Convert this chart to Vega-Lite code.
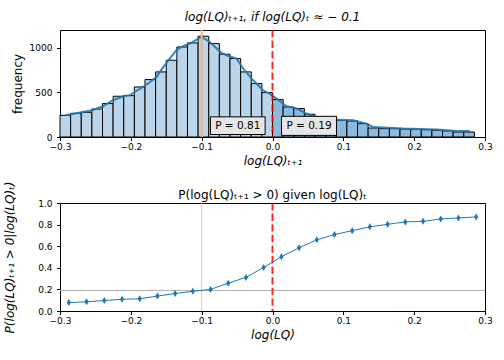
{
  "$schema": "https://vega.github.io/schema/vega-lite/v6.json",
  "padding": {"left": 3, "top": 10, "right": 10, "bottom": 5},
  "bounds": "flush",
  "spacing": 66,
  "config": {
    "font": "DejaVu Sans",
    "view": {"stroke": "black", "strokeWidth": 1},
    "axis": {
      "labelFlush": false, "labelOverlap": false, "grid": false,
      "domainColor": "black", "tickColor": "black", "labelColor": "black", "titleColor": "black",
      "labelFont": "DejaVu Sans", "titleFont": "DejaVu Sans",
      "labelFontSize": 9, "titleFontSize": 12, "titleFontWeight": "normal",
      "tickSize": 3.5, "domainWidth": 1, "tickWidth": 1
    },
    "title": {"font": "DejaVu Sans", "fontSize": 12, "fontWeight": "normal", "color": "black", "offset": 5, "frame": "group"}
  },
  "datasets": {
    "bars": [
      {"a": -0.3, "b": -0.285, "c": 243, "side": "neg"},
      {"a": -0.285, "b": -0.27, "c": 266, "side": "neg"},
      {"a": -0.27, "b": -0.255, "c": 277, "side": "neg"},
      {"a": -0.255, "b": -0.24, "c": 314, "side": "neg"},
      {"a": -0.24, "b": -0.225, "c": 375, "side": "neg"},
      {"a": -0.225, "b": -0.21, "c": 457, "side": "neg"},
      {"a": -0.21, "b": -0.195, "c": 464, "side": "neg"},
      {"a": -0.195, "b": -0.18, "c": 561, "side": "neg"},
      {"a": -0.18, "b": -0.165, "c": 644, "side": "neg"},
      {"a": -0.165, "b": -0.15, "c": 730, "side": "neg"},
      {"a": -0.15, "b": -0.135, "c": 861, "side": "neg"},
      {"a": -0.135, "b": -0.12, "c": 1010, "side": "neg"},
      {"a": -0.12, "b": -0.105, "c": 1055, "side": "neg"},
      {"a": -0.105, "b": -0.09, "c": 1130, "side": "neg"},
      {"a": -0.09, "b": -0.075, "c": 1048, "side": "neg"},
      {"a": -0.075, "b": -0.06, "c": 928, "side": "neg"},
      {"a": -0.06, "b": -0.045, "c": 880, "side": "neg"},
      {"a": -0.045, "b": -0.03, "c": 730, "side": "neg"},
      {"a": -0.03, "b": -0.015, "c": 599, "side": "neg"},
      {"a": -0.015, "b": 0, "c": 498, "side": "neg"},
      {"a": 0, "b": 0.015, "c": 420, "side": "pos"},
      {"a": 0.015, "b": 0.03, "c": 337, "side": "pos"},
      {"a": 0.03, "b": 0.045, "c": 319, "side": "pos"},
      {"a": 0.045, "b": 0.06, "c": 255, "side": "pos"},
      {"a": 0.06, "b": 0.075, "c": 225, "side": "pos"},
      {"a": 0.075, "b": 0.09, "c": 206, "side": "pos"},
      {"a": 0.09, "b": 0.105, "c": 187, "side": "pos"},
      {"a": 0.105, "b": 0.12, "c": 180, "side": "pos"},
      {"a": 0.12, "b": 0.135, "c": 150, "side": "pos"},
      {"a": 0.135, "b": 0.15, "c": 101, "side": "pos"},
      {"a": 0.15, "b": 0.165, "c": 94, "side": "pos"},
      {"a": 0.165, "b": 0.18, "c": 94, "side": "pos"},
      {"a": 0.18, "b": 0.195, "c": 90, "side": "pos"},
      {"a": 0.195, "b": 0.21, "c": 86, "side": "pos"},
      {"a": 0.21, "b": 0.225, "c": 82, "side": "pos"},
      {"a": 0.225, "b": 0.24, "c": 75, "side": "pos"},
      {"a": 0.24, "b": 0.255, "c": 68, "side": "pos"},
      {"a": 0.255, "b": 0.27, "c": 56, "side": "pos"},
      {"a": 0.27, "b": 0.285, "c": 56, "side": "pos"}
    ],
    "kde": [
      {"x": -0.2924, "y": 243}, {"x": -0.2768, "y": 266}, {"x": -0.2548, "y": 300},
      {"x": -0.2393, "y": 345}, {"x": -0.2251, "y": 412}, {"x": -0.2096, "y": 460},
      {"x": -0.2016, "y": 468}, {"x": -0.1945, "y": 505}, {"x": -0.179, "y": 580},
      {"x": -0.1638, "y": 673}, {"x": -0.159, "y": 730}, {"x": -0.1487, "y": 842},
      {"x": -0.1356, "y": 973}, {"x": -0.1263, "y": 1018}, {"x": -0.1168, "y": 1048},
      {"x": -0.1003, "y": 1122}, {"x": -0.0886, "y": 1066}, {"x": -0.072, "y": 943},
      {"x": -0.065, "y": 917}, {"x": -0.0508, "y": 880}, {"x": -0.0415, "y": 768},
      {"x": -0.0274, "y": 636}, {"x": -0.0133, "y": 524}, {"x": -0.003, "y": 480},
      {"x": 0.0056, "y": 431}, {"x": 0.0198, "y": 345}, {"x": 0.0339, "y": 319},
      {"x": 0.048, "y": 263}, {"x": 0.0621, "y": 218}, {"x": 0.081, "y": 195},
      {"x": 0.1138, "y": 187}, {"x": 0.1328, "y": 150}, {"x": 0.142, "y": 112},
      {"x": 0.1845, "y": 94}, {"x": 0.2316, "y": 83}, {"x": 0.2599, "y": 67},
      {"x": 0.2787, "y": 67}
    ],
    "labels": [
      {"x1": -0.0876, "x2": -0.0104, "y1": 28, "y2": 226, "tx": -0.049, "ty": 127, "label": "P = 0.81"},
      {"x1": 0.0127, "x2": 0.0904, "y1": 18, "y2": 232, "tx": 0.0515, "ty": 125, "label": "P = 0.19"}
    ],
    "prob": [
      {"x": -0.2875, "p": 0.078}, {"x": -0.2625, "p": 0.085}, {"x": -0.2375, "p": 0.097},
      {"x": -0.2125, "p": 0.108}, {"x": -0.1875, "p": 0.113}, {"x": -0.1625, "p": 0.138},
      {"x": -0.1375, "p": 0.162}, {"x": -0.1125, "p": 0.182}, {"x": -0.0875, "p": 0.2},
      {"x": -0.0625, "p": 0.258}, {"x": -0.0375, "p": 0.311}, {"x": -0.0125, "p": 0.403},
      {"x": 0.0125, "p": 0.502}, {"x": 0.0375, "p": 0.585}, {"x": 0.0625, "p": 0.659},
      {"x": 0.0875, "p": 0.708}, {"x": 0.1125, "p": 0.744}, {"x": 0.1375, "p": 0.779},
      {"x": 0.1625, "p": 0.803}, {"x": 0.1875, "p": 0.825}, {"x": 0.2125, "p": 0.83},
      {"x": 0.2375, "p": 0.852}, {"x": 0.2625, "p": 0.862}, {"x": 0.2875, "p": 0.871}
    ],
    "hline": [{"p": 0.19}],
    "vorange": [{"x": -0.1}],
    "vred": [{"x": 0}]
  },
  "vconcat": [
    {
      "width": 425, "height": 107,
      "title": {"text": "log(LQ)ₜ₊₁, if log(LQ)ₜ ≈ − 0.1", "fontStyle": "italic"},
      "layer": [
        {
          "data": {"name": "bars"},
          "mark": {"type": "rect", "stroke": "black", "strokeWidth": 1},
          "encoding": {
            "x": {"field": "a", "type": "quantitative",
                  "scale": {"domain": [-0.3, 0.3], "nice": false, "zero": false},
                  "axis": {"values": [-0.3, -0.2, -0.1, 0, 0.1, 0.2, 0.3], "format": ".1f", "labelPadding": 1.5, "titlePadding": 4, "titleFontStyle": "italic"},
                  "title": "log(LQ)ₜ₊₁"},
            "x2": {"field": "b"},
            "y": {"field": "c", "type": "quantitative",
                  "scale": {"domain": [0, 1200], "nice": false},
                  "axis": {"values": [0, 250, 500, 750, 1000], "format": "d", "labelPadding": 4.5, "titlePadding": 5},
                  "title": "frequency"},
            "y2": {"datum": 0},
            "fill": {"field": "side", "type": "nominal",
                     "scale": {"domain": ["neg", "pos"], "range": ["#bad4e9", "#8db9dc"]}, "legend": null}
          }
        },
        {
          "data": {"name": "kde"},
          "mark": {"type": "line", "color": "#1f77b4", "strokeWidth": 2, "opacity": 0.9},
          "encoding": {
            "x": {"field": "x", "type": "quantitative"},
            "y": {"field": "y", "type": "quantitative"}
          }
        },
        {
          "data": {"name": "vorange"},
          "mark": {"type": "rule", "color": "#f6b27c", "opacity": 1, "strokeWidth": 2},
          "encoding": {"x": {"field": "x", "type": "quantitative"}}
        },
        {
          "data": {"name": "vred"},
          "mark": {"type": "rule", "color": "red", "opacity": 0.85, "strokeWidth": 2, "strokeDash": [7.4, 3.2]},
          "encoding": {"x": {"field": "x", "type": "quantitative"}}
        },
        {
          "data": {"name": "labels"},
          "mark": {"type": "rect", "fill": "#e6e6e6", "stroke": "black", "strokeWidth": 1},
          "encoding": {
            "x": {"field": "x1", "type": "quantitative"}, "x2": {"field": "x2"},
            "y": {"field": "y1", "type": "quantitative"}, "y2": {"field": "y2"}
          }
        },
        {
          "data": {"name": "labels"},
          "mark": {"type": "text", "fontSize": 10.5, "align": "center", "baseline": "middle", "color": "black"},
          "encoding": {
            "x": {"field": "tx", "type": "quantitative"},
            "y": {"field": "ty", "type": "quantitative"},
            "text": {"field": "label"}
          }
        }
      ]
    },
    {
      "width": 425, "height": 108,
      "title": {"text": "P(log(LQ)ₜ₊₁ > 0) given log(LQ)ₜ", "dy": 26},
      "encoding": {
        "x": {"field": "x", "type": "quantitative",
              "scale": {"domain": [-0.3, 0.3], "nice": false, "zero": false},
              "axis": {"values": [-0.3, -0.2, -0.1, 0, 0.1, 0.2, 0.3], "format": ".1f", "labelPadding": 1.5, "titlePadding": 4, "titleFontStyle": "italic"},
              "title": "log(LQ)"},
        "y": {"field": "p", "type": "quantitative",
              "scale": {"domain": [0, 1], "nice": false, "zero": false},
              "axis": {"values": [0, 0.2, 0.4, 0.6, 0.8, 1], "format": ".1f", "labelPadding": 4.5, "titlePadding": 21, "titleFontStyle": "italic"},
              "title": "P(log(LQ)ₜ₊₁ > 0|log(LQ)ₜ)"}
      },
      "layer": [
        {
          "data": {"name": "hline"},
          "mark": {"type": "rule", "color": "#b0b0b0", "strokeWidth": 1},
          "encoding": {"x": {"value": 0}, "x2": {"value": 425}}
        },
        {
          "data": {"name": "vorange"},
          "mark": {"type": "rule", "color": "#fbbf80", "opacity": 1, "strokeWidth": 1},
          "encoding": {"y": {"value": 0}, "y2": {"value": 108}}
        },
        {
          "data": {"name": "vred"},
          "mark": {"type": "rule", "color": "red", "opacity": 0.85, "strokeWidth": 2, "strokeDash": [7.4, 3.2]},
          "encoding": {"y": {"value": 0}, "y2": {"value": 108}}
        },
        {
          "data": {"name": "prob"},
          "mark": {"type": "line", "color": "#1f77b4", "strokeWidth": 1,
                   "point": {"shape": "M0,-1L0.6,0L0,1L-0.6,0Z", "size": 49, "filled": true, "color": "#1f77b4", "opacity": 1}}
        }
      ]
    }
  ]
}
